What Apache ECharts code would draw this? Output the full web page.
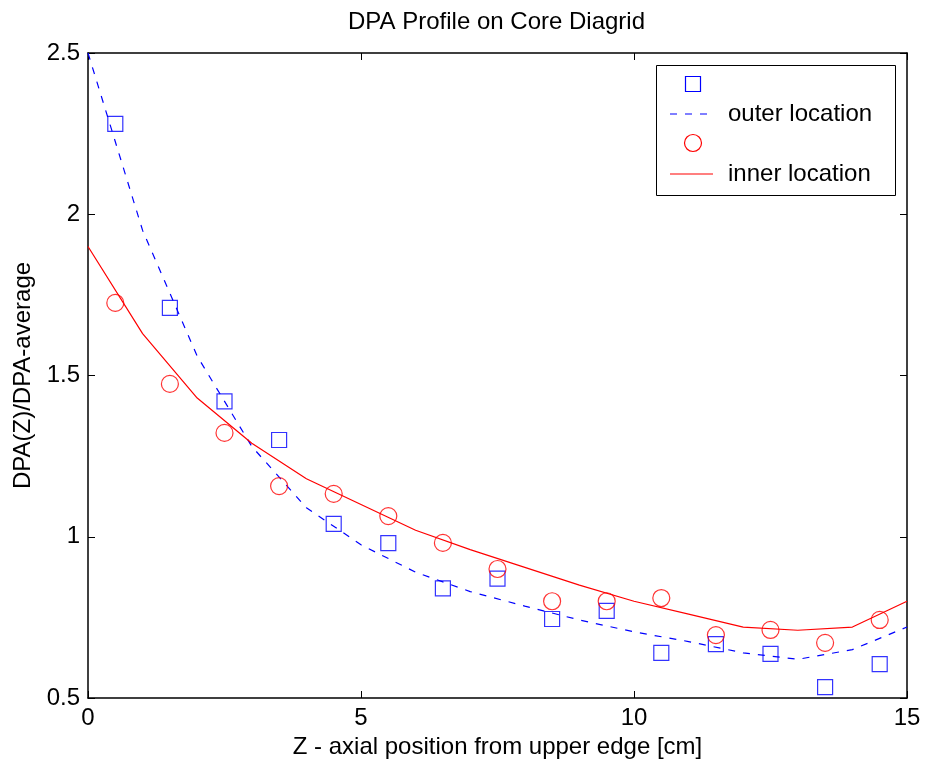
<!DOCTYPE html>
<html>
<head>
<meta charset="utf-8">
<title>DPA Profile on Core Diagrid</title>
<script src="https://cdn.jsdelivr.net/npm/echarts@6/dist/echarts.min.js"></script>
<style>
  html, body { margin: 0; padding: 0; background: #ffffff; }
  #chart { width: 926px; height: 767px; }
</style>
</head>
<body>
<div id="chart"></div>
<script>
// Measured axial positions [cm]
const zMeasured = [0.5, 1.5, 2.5, 3.5, 4.5, 5.5, 6.5, 7.5, 8.5, 9.5, 10.5, 11.5, 12.5, 13.5, 14.5];
// Normalised DPA, outer location (squares)
const outerMeasured = [2.28, 1.71, 1.42, 1.30, 1.04, 0.98, 0.84, 0.87, 0.745, 0.77, 0.64, 0.667, 0.637, 0.534, 0.605];
// Normalised DPA, inner location (circles)
const innerMeasured = [1.725, 1.474, 1.322, 1.157, 1.133, 1.064, 0.981, 0.90, 0.80, 0.80, 0.81, 0.695, 0.711, 0.671, 0.742];

// Fitted profiles, evaluated at whole centimetres
const zFit = [0, 1, 2, 3, 4, 5, 6, 7, 8, 9, 10, 11, 12, 13, 14, 15];
const outerFit = [2.50, 1.95, 1.56, 1.28, 1.09, 0.975, 0.89, 0.83, 0.785, 0.742, 0.705, 0.675, 0.64, 0.62, 0.65, 0.72];
const innerFit = [1.90, 1.63, 1.43, 1.29, 1.18, 1.10, 1.02, 0.96, 0.905, 0.85, 0.80, 0.76, 0.72, 0.71, 0.72, 0.80];

// Axis ticks
const xTicks = [0, 5, 10, 15];
const yTicks = [0.5, 1, 1.5, 2, 2.5];

const FONT = '"Liberation Sans", Arial, Helvetica, sans-serif';
const BLUE = '#0000ff';
const RED = '#ff0000';

const pairs = (xs, ys) => xs.map((x, i) => [x, ys[i]]);

const axisCommon = {
  type: 'value',
  splitLine: { show: false },
  axisLine: { show: true, onZero: false, lineStyle: { color: '#000', width: 1.5 } },
  axisTick: { show: true, inside: true, length: 7, lineStyle: { color: '#000', width: 1 } }
};

const xRange = { min: xTicks[0], max: xTicks[xTicks.length - 1], interval: xTicks[1] - xTicks[0] };
const yRange = { min: yTicks[0], max: yTicks[yTicks.length - 1], interval: yTicks[1] - yTicks[0] };

const chart = echarts.init(document.getElementById('chart'), null, { renderer: 'canvas' });

chart.setOption({
  animation: false,
  backgroundColor: '#ffffff',
  textStyle: { fontFamily: FONT },
  title: {
    text: 'DPA Profile on Core Diagrid',
    left: 343,
    top: 5,
    padding: 5,
    textStyle: { fontFamily: FONT, fontSize: 24, fontWeight: 'normal', color: '#000' }
  },
  grid: { left: 88, right: 19, top: 53, bottom: 69, containLabel: false },
  xAxis: [
    Object.assign({}, axisCommon, xRange, {
      position: 'bottom',
      name: 'Z - axial position from upper edge [cm]',
      nameLocation: 'middle',
      nameGap: 37,
      nameTextStyle: { fontFamily: FONT, fontSize: 24, color: '#000' },
      axisLabel: { show: true, color: '#000', fontFamily: FONT, fontSize: 24, margin: 8, showMinLabel: true, showMaxLabel: true }
    }),
    Object.assign({}, axisCommon, xRange, {
      position: 'top',
      axisLabel: { show: false }
    })
  ],
  yAxis: [
    Object.assign({}, axisCommon, yRange, {
      position: 'left',
      name: 'DPA(Z)/DPA-average',
      nameLocation: 'middle',
      nameGap: 49,
      nameTextStyle: { fontFamily: FONT, fontSize: 24, color: '#000' },
      axisLabel: { show: true, color: '#000', fontFamily: FONT, fontSize: 24, margin: 8, showMinLabel: true, showMaxLabel: true }
    }),
    Object.assign({}, axisCommon, yRange, {
      position: 'right',
      axisLabel: { show: false }
    })
  ],
  series: [
    {
      name: 'outer measured',
      type: 'scatter',
      xAxisIndex: 0, yAxisIndex: 0,
      data: pairs(zMeasured, outerMeasured),
      symbol: 'rect',
      symbolSize: 15,
      itemStyle: { color: 'rgba(0,0,0,0)', borderColor: BLUE, borderWidth: 1.2 },
      z: 3
    },
    {
      name: 'outer location',
      type: 'line',
      xAxisIndex: 0, yAxisIndex: 0,
      data: pairs(zFit, outerFit),
      symbol: 'none',
      smooth: false,
      lineStyle: { color: BLUE, width: 1.2, type: [7, 8] },
      z: 2
    },
    {
      name: 'inner measured',
      type: 'scatter',
      xAxisIndex: 0, yAxisIndex: 0,
      data: pairs(zMeasured, innerMeasured),
      symbol: 'circle',
      symbolSize: 17,
      itemStyle: { color: 'rgba(0,0,0,0)', borderColor: RED, borderWidth: 1.2 },
      z: 3
    },
    {
      name: 'inner location',
      type: 'line',
      xAxisIndex: 0, yAxisIndex: 0,
      data: pairs(zFit, innerFit),
      symbol: 'none',
      smooth: false,
      lineStyle: { color: RED, width: 1.2, type: 'solid' },
      z: 2
    }
  ],
  // Boxed key in the upper right corner of the axes
  graphic: [
    {
      type: 'group',
      left: 656,
      top: 65,
      z: 100,
      children: [
        { type: 'rect', shape: { x: 0.5, y: 0.5, width: 239, height: 130 },
          style: { fill: '#fff', stroke: '#000', lineWidth: 1 } },
        { type: 'rect', shape: { x: 29.5, y: 11.5, width: 15, height: 15 },
          style: { fill: 'none', stroke: BLUE, lineWidth: 1.2 } },
        { type: 'line', shape: { x1: 14, y1: 49, x2: 52, y2: 49 },
          style: { stroke: BLUE, lineWidth: 1.2, lineDash: [7, 8] } },
        { type: 'text', x: 72, y: 49,
          style: { text: 'outer location', font: '24px ' + FONT, fill: '#000', textVerticalAlign: 'middle', verticalAlign: 'middle' } },
        { type: 'circle', shape: { cx: 37, cy: 78, r: 8.5 },
          style: { fill: 'none', stroke: RED, lineWidth: 1.2 } },
        { type: 'line', shape: { x1: 14, y1: 109, x2: 57, y2: 109 },
          style: { stroke: RED, lineWidth: 1.2 } },
        { type: 'text', x: 72, y: 109,
          style: { text: 'inner location', font: '24px ' + FONT, fill: '#000', textVerticalAlign: 'middle', verticalAlign: 'middle' } }
      ]
    }
  ]
});
</script>
</body>
</html>
